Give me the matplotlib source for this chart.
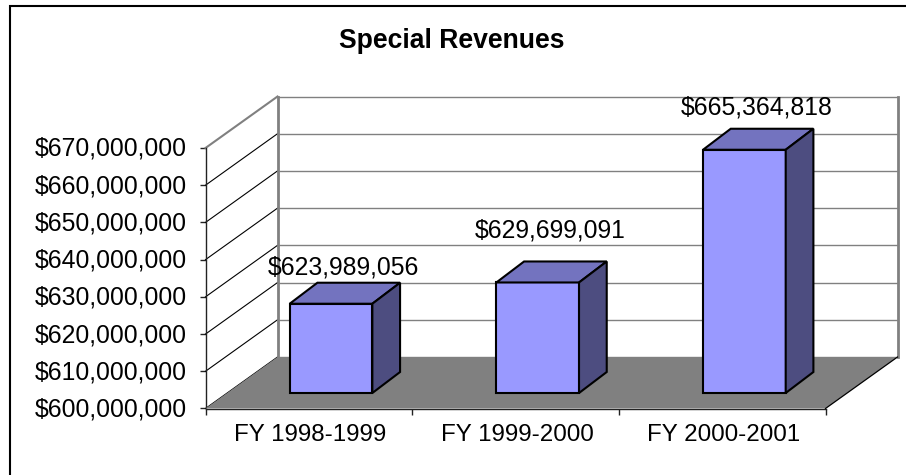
import matplotlib
matplotlib.use("Agg")
import matplotlib.pyplot as plt
from matplotlib.patches import Polygon
from matplotlib.lines import Line2D
from matplotlib.transforms import ScaledTranslation

title = "Special Revenues"
categories = ["FY 1998-1999", "FY 1999-2000", "FY 2000-2001"]
values = [623989056, 629699091, 665364818]
value_labels = ["$623,989,056", "$629,699,091", "$665,364,818"]
y_ticks = [600000000, 610000000, 620000000, 630000000, 640000000, 650000000, 660000000, 670000000]

# layout only: rise of each value label above its bar's front top edge, in pixels
label_rise = [29.3, 45.0, 35.7]

W, H = 906, 475
plt.rcParams['font.family'] = ['Liberation Sans', 'DejaVu Sans']
fig = plt.figure(figsize=(W / 100, H / 100), dpi=100, facecolor='white')

# outer chart frame: only the top and left edges fall inside the picture
fig.add_artist(Line2D([9.5 / W, 9.5 / W, 1.0], [0.0, 1 - 6.0 / H, 1 - 6.0 / H], transform=fig.transFigure,
                      color='black', linewidth=1.5, solid_joinstyle='miter'))

# front plane of the 3D box
L, R, T, B = 205.5, 825.5, 148.0, 408.5
ax = fig.add_axes([L / W, 1 - B / H, (R - L) / W, (B - T) / H])
ax.set_xlim(0, len(categories))
ax.set_ylim(y_ticks[0], y_ticks[-1])
ax.patch.set_visible(False)
for s in ['top', 'right']:
    ax.spines[s].set_visible(False)
for s in ['left', 'bottom']:
    ax.spines[s].set_linewidth(1.0)
    ax.spines[s].set_color('#222222')

px_x = len(categories) / (R - L)
px_y = (y_ticks[-1] - y_ticks[0]) / (B - T)
def pt(x, y, dx=0.0, dy=0.0):
    """data point shifted by a depth offset in pixels (dy upward)"""
    return (x + dx * px_x, y + dy * px_y)

DX, DY = 72.0, 51.5       # full depth of the box
bottom, top = y_ticks[0], y_ticks[-1]
kw = dict(clip_on=False)

# back wall
ax.add_patch(Polygon([pt(0, bottom, DX, DY), pt(3, bottom, DX, DY), pt(3, top, DX, DY), pt(0, top, DX, DY)],
                     closed=True, facecolor='white', edgecolor='none', zorder=1, **kw))
for v in y_ticks:
    ax.add_line(Line2D(*zip(pt(0, v, DX, DY), pt(3, v, DX, DY)), color='#808080', lw=1.0, zorder=2, **kw))
    lc = '#808080' if v == top else 'black'
    ax.add_line(Line2D(*zip(pt(0, v), pt(0, v, DX, DY)), color=lc, lw=1.5 if v == top else 0.8, zorder=2, **kw))
ax.add_line(Line2D(*zip(pt(0, bottom, DX, DY), pt(0, top, DX, DY)), color='#808080', lw=2.0, zorder=2, **kw))
ax.add_line(Line2D(*zip(pt(3, bottom, DX, DY), pt(3, top, DX, DY)), color='#808080', lw=2.0, zorder=2, **kw))

# floor
ax.add_patch(Polygon([pt(0, bottom), pt(3, bottom), pt(3, bottom, DX, DY), pt(0, bottom, DX, DY)],
                     closed=True, facecolor='#808080', edgecolor='none', zorder=3, **kw))
ax.add_line(Line2D(*zip(pt(3, bottom), pt(3, bottom, DX, DY)), color='black', lw=0.9, zorder=3, **kw))

# bars
BAR_W = 0.4
OX, OY = 22.2, 15.5      # bar front face offset inside the box
BX, BY = 27.7, 21.0      # bar depth
edge = dict(edgecolor='black', linewidth=1.5, joinstyle='miter', zorder=5, **kw)
for i, (v, lab, rise) in enumerate(zip(values, value_labels, label_rise)):
    x0, x1 = i + 0.5 - BAR_W / 2, i + 0.5 + BAR_W / 2
    fbl = pt(x0, bottom, OX, OY); fbr = pt(x1, bottom, OX, OY)
    ftl = pt(x0, v, OX, OY); ftr = pt(x1, v, OX, OY)
    btl = pt(x0, v, OX + BX, OY + BY); btr = pt(x1, v, OX + BX, OY + BY)
    bbr = pt(x1, bottom, OX + BX, OY + BY)
    ax.add_patch(Polygon([fbl, fbr, ftr, ftl], closed=True, facecolor='#9999FF', **edge))
    ax.add_patch(Polygon([ftl, ftr, btr, btl], closed=True, facecolor='#7373BF', **edge))
    ax.add_patch(Polygon([fbr, bbr, btr, ftr], closed=True, facecolor='#4D4D80', **edge))
    lx, ly = pt(i + 0.5, v, OX + 12.4, OY + rise)
    ax.text(lx, ly, lab, ha='center', va='baseline', fontsize=17.8, color='black', zorder=6, clip_on=False)

# ticks and labels
ax.set_yticks(y_ticks)
ax.set_yticklabels([f"${v:,}" for v in y_ticks], fontsize=17.8, color='black')
ax.set_xticks(range(len(categories) + 1))
ax.set_xticklabels([""] * (len(categories) + 1))
ax.tick_params(axis='y', length=4.5, width=1.0, color='#222222', pad=9.0)
ax.tick_params(axis='x', length=4.5, width=1.0, color='#222222')
shift_up = ScaledTranslation(0, 1.5 / 100, fig.dpi_scale_trans)
for lbl in ax.get_yticklabels():
    lbl.set_transform(lbl.get_transform() + shift_up)
for i, c in enumerate(categories):
    ax.annotate(c, xy=(i + 0.5, bottom), xytext=(1.2, -11.5), textcoords='offset points',
                ha='center', va='top', fontsize=17.4, color='black', annotation_clip=False)

fig.text(452 / W, 1 - 41.5 / H, title, ha='center', va='center', fontsize=19.1, fontweight='bold', color='black')

fig.savefig('out.png', dpi=100, facecolor='white')
